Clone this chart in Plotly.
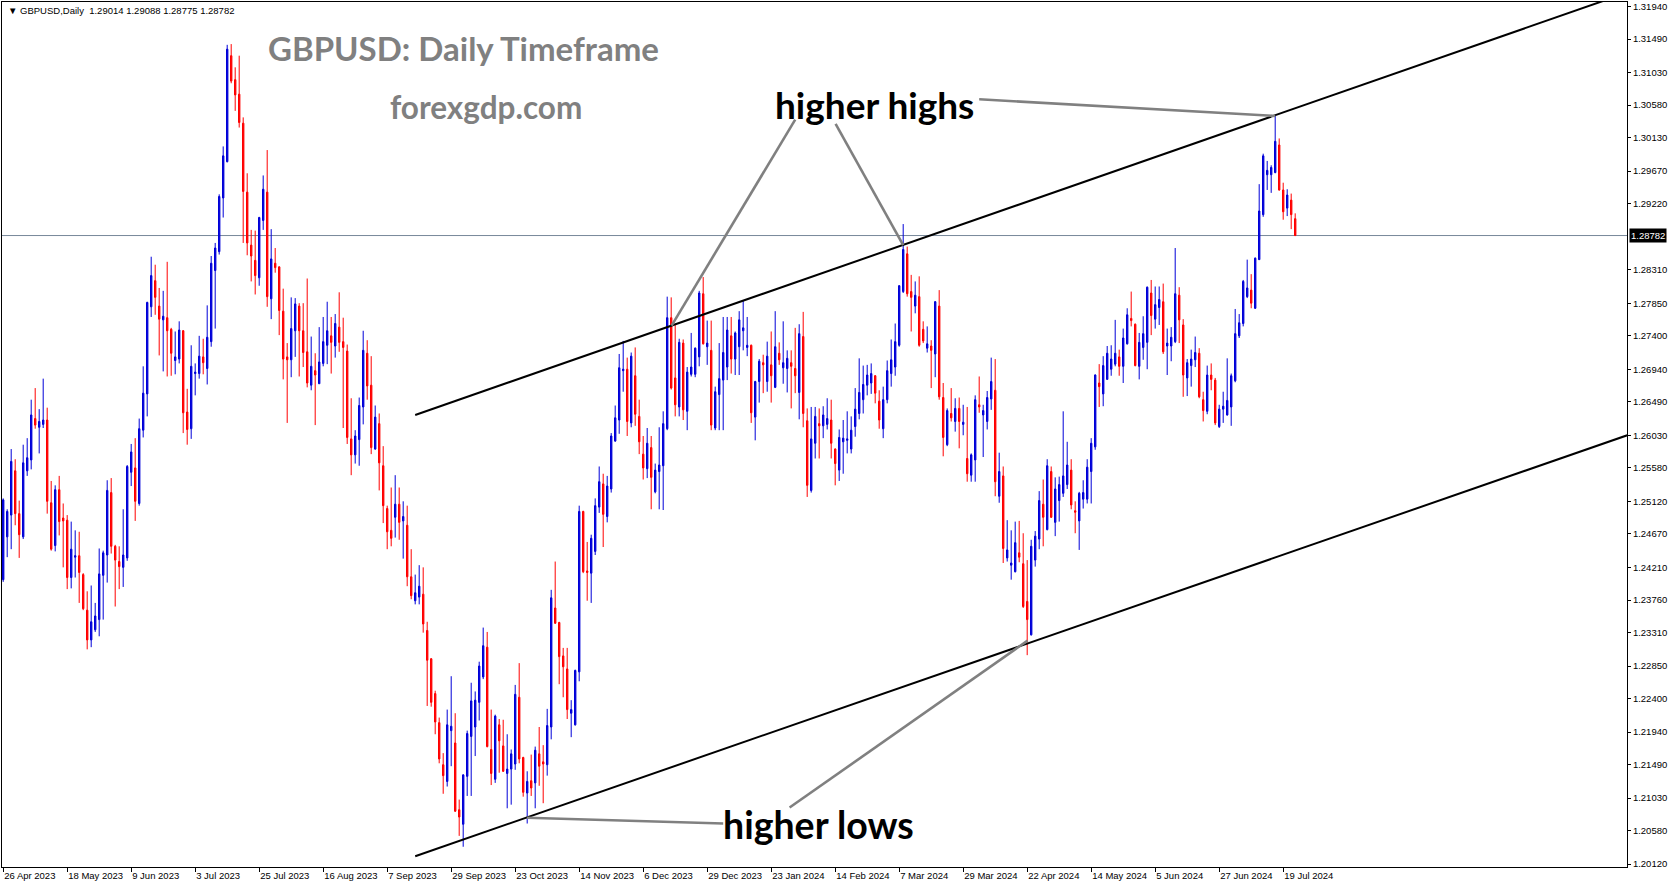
import plotly.graph_objects as go
import pandas as pd

# ---------------- data ----------------
dates = [d.strftime("%Y-%m-%d") for d in pd.bdate_range("2023-04-26", "2024-07-24")
         if d.strftime("%m-%d") not in ("12-25", "01-01")]

open_ = [
    1.2404, 1.2463, 1.2493, 1.2554, 1.2495, 1.2463, 1.2554, 1.2569, 1.2626, 1.2614,
    1.2618, 1.2624, 1.2510, 1.2451, 1.2528, 1.2489, 1.2486, 1.2407, 1.2435, 1.2437,
    1.2411, 1.2362, 1.2321, 1.2335, 1.2349, 1.2410, 1.2438, 1.2524, 1.2450, 1.2429,
    1.2421, 1.2434, 1.2552, 1.2558, 1.2509, 1.2610, 1.2660, 1.2780, 1.2816, 1.2781,
    1.2762, 1.2765, 1.2749, 1.2706, 1.2708, 1.2747, 1.2635, 1.2612, 1.2688, 1.2688,
    1.2711, 1.2695, 1.2732, 1.2830, 1.2856, 1.2930, 1.2980, 1.3126, 1.3093, 1.3073,
    1.3033, 1.2938, 1.2865, 1.2844, 1.2820, 1.2899, 1.2938, 1.2791, 1.2840, 1.2835,
    1.2774, 1.2711, 1.2707, 1.2747, 1.2781, 1.2747, 1.2718, 1.2672, 1.2692, 1.2674,
    1.2702, 1.2727, 1.2740, 1.2726, 1.2752, 1.2732, 1.2719, 1.2598, 1.2576, 1.2597,
    1.2642, 1.2716, 1.2672, 1.2584, 1.2619, 1.2561, 1.2502, 1.2472, 1.2490, 1.2508,
    1.2485, 1.2479, 1.2408, 1.2375, 1.2380, 1.2384, 1.2334, 1.2295, 1.2247, 1.2207,
    1.2149, 1.2126, 1.2196, 1.2179, 1.2087, 1.2067, 1.2133, 1.2188, 1.2201, 1.2235,
    1.2270, 1.2311, 1.2170, 1.2129, 1.2204, 1.2175, 1.2137, 1.2143, 1.2150, 1.2242,
    1.2159, 1.2110, 1.2127, 1.2124, 1.2164, 1.2153, 1.2149, 1.2201, 1.2365, 1.2345,
    1.2299, 1.2281, 1.2220, 1.2204, 1.2277, 1.2498, 1.2416, 1.2413, 1.2443, 1.2504,
    1.2536, 1.2491, 1.2529, 1.2595, 1.2624, 1.2692, 1.2694, 1.2620, 1.2685, 1.2629,
    1.2577, 1.2557, 1.2586, 1.2525, 1.2553, 1.2561, 1.2612, 1.2765, 1.2682, 1.2642,
    1.2730, 1.2636, 1.2687, 1.2687, 1.2711, 1.2798, 1.2725, 1.2720, 1.2613, 1.2659,
    1.2679, 1.2697, 1.2740, 1.2708, 1.2725, 1.2747, 1.2724, 1.2727, 1.2628, 1.2677,
    1.2703, 1.2677, 1.2700, 1.2669, 1.2716, 1.2696, 1.2695, 1.2703, 1.2695, 1.2662,
    1.2739, 1.2623, 1.2527, 1.2592, 1.2619, 1.2616, 1.2618, 1.2624, 1.2584, 1.2555,
    1.2594, 1.2596, 1.2584, 1.2615, 1.2633, 1.2652, 1.2672, 1.2675, 1.2685, 1.2650,
    1.2612, 1.2652, 1.2688, 1.2697, 1.2727, 1.2801, 1.2853, 1.2801, 1.2781, 1.2794,
    1.2749, 1.2723, 1.2726, 1.2715, 1.2781, 1.2655, 1.2590, 1.2633, 1.2622, 1.2640,
    1.2618, 1.2571, 1.2548, 1.2569, 1.2645, 1.2631, 1.2622, 1.2653, 1.2665, 1.2519,
    1.2547, 1.2434, 1.2424, 1.2415, 1.2441, 1.2426, 1.2374, 1.2328, 1.2431, 1.2460,
    1.2508, 1.2473, 1.2553, 1.2483, 1.2513, 1.2523, 1.2535, 1.2555, 1.2499, 1.2485,
    1.2515, 1.2515, 1.2553, 1.2587, 1.2675, 1.2660, 1.2680, 1.2694, 1.2701, 1.2711,
    1.2698, 1.2729, 1.2764, 1.2756, 1.2698, 1.2724, 1.2731, 1.2799, 1.2763, 1.2779,
    1.2787, 1.2726, 1.2726, 1.2732, 1.2796, 1.2755, 1.2682, 1.2699, 1.2707, 1.2716,
    1.2652, 1.2636, 1.2686, 1.2679, 1.2615, 1.2639, 1.2631, 1.2642, 1.2678, 1.2740,
    1.2757, 1.2794, 1.2803, 1.2778, 1.2845, 1.2907, 1.2962, 1.2962, 1.2965, 1.3003,
    1.2941, 1.2916, 1.2927, 1.29014,
]

high = [
    1.2516, 1.2501, 1.2584, 1.2570, 1.2513, 1.2590, 1.2599, 1.2652, 1.2668, 1.2639,
    1.2681, 1.2641, 1.2540, 1.2534, 1.2547, 1.2509, 1.2493, 1.2484, 1.2472, 1.2470,
    1.2413, 1.2388, 1.2396, 1.2372, 1.2447, 1.2444, 1.2541, 1.2544, 1.2452, 1.2450,
    1.2501, 1.2562, 1.2591, 1.2599, 1.2626, 1.2698, 1.2787, 1.2849, 1.2838, 1.2806,
    1.2802, 1.2842, 1.2751, 1.2746, 1.2760, 1.2748, 1.2667, 1.2727, 1.2702, 1.2740,
    1.2736, 1.2782, 1.2850, 1.2868, 1.2935, 1.3001, 1.3141, 1.3142, 1.3110, 1.3126,
    1.3041, 1.2964, 1.2886, 1.2885, 1.2904, 1.2961, 1.2996, 1.2887, 1.2861, 1.2836,
    1.2805, 1.2730, 1.2793, 1.2792, 1.2785, 1.2785, 1.2819, 1.2739, 1.2716, 1.2752,
    1.2766, 1.2787, 1.2766, 1.2770, 1.2800, 1.2765, 1.2728, 1.2654, 1.2610, 1.2655,
    1.2747, 1.2734, 1.2712, 1.2644, 1.2633, 1.2588, 1.2506, 1.2531, 1.2548, 1.2531,
    1.2512, 1.2506, 1.2446, 1.2411, 1.2424, 1.2421, 1.2346, 1.2296, 1.2251, 1.2214,
    1.2165, 1.2225, 1.2271, 1.2220, 1.2101, 1.2136, 1.2196, 1.2262, 1.2250, 1.2291,
    1.2338, 1.2332, 1.2225, 1.2218, 1.2212, 1.2211, 1.2191, 1.2170, 1.2259, 1.2289,
    1.2160, 1.2140, 1.2163, 1.2174, 1.2201, 1.2176, 1.2226, 1.2390, 1.2429, 1.2346,
    1.2310, 1.2310, 1.2238, 1.2280, 1.2506, 1.2499, 1.2456, 1.2466, 1.2516, 1.2560,
    1.2550, 1.2547, 1.2606, 1.2644, 1.2715, 1.2733, 1.2710, 1.2717, 1.2724, 1.2652,
    1.2602, 1.2613, 1.2602, 1.2564, 1.2614, 1.2636, 1.2794, 1.2793, 1.2756, 1.2736,
    1.2735, 1.2697, 1.2744, 1.2724, 1.2802, 1.2821, 1.2761, 1.2761, 1.2670, 1.2730,
    1.2766, 1.2766, 1.2766, 1.2746, 1.2774, 1.2788, 1.2766, 1.2728, 1.2678, 1.2708,
    1.2714, 1.2732, 1.2746, 1.2774, 1.2731, 1.2760, 1.2720, 1.2720, 1.2751, 1.2756,
    1.2773, 1.2640, 1.2642, 1.2642, 1.2640, 1.2643, 1.2654, 1.2652, 1.2585, 1.2611,
    1.2624, 1.2636, 1.2629, 1.2668, 1.2709, 1.2699, 1.2700, 1.2702, 1.2686, 1.2665,
    1.2670, 1.2706, 1.2735, 1.2757, 1.2810, 1.2894, 1.2863, 1.2824, 1.2815, 1.2822,
    1.2760, 1.2753, 1.2734, 1.2788, 1.2803, 1.2675, 1.2640, 1.2668, 1.2654, 1.2655,
    1.2645, 1.2642, 1.2578, 1.2658, 1.2684, 1.2645, 1.2664, 1.2710, 1.2708, 1.2579,
    1.2560, 1.2486, 1.2472, 1.2484, 1.2485, 1.2468, 1.2431, 1.2459, 1.2471, 1.2526,
    1.2542, 1.2570, 1.2560, 1.2545, 1.2546, 1.2636, 1.2594, 1.2570, 1.2512, 1.2525,
    1.2541, 1.2570, 1.2599, 1.2687, 1.2701, 1.2712, 1.2726, 1.2727, 1.2762, 1.2721,
    1.2750, 1.2778, 1.2801, 1.2757, 1.2744, 1.2767, 1.2808, 1.2817, 1.2808, 1.2808,
    1.2812, 1.2750, 1.2752, 1.2861, 1.2807, 1.2763, 1.2708, 1.2721, 1.2739, 1.2723,
    1.2663, 1.2699, 1.2702, 1.2682, 1.2645, 1.2663, 1.2709, 1.2688, 1.2777, 1.2770,
    1.2817, 1.2845, 1.2825, 1.2848, 1.2949, 1.2991, 1.2981, 1.2975, 1.3044, 1.3012,
    1.2951, 1.2942, 1.2936, 1.29088,
]

low = [
    1.2401, 1.2435, 1.2446, 1.2479, 1.2434, 1.2460, 1.2547, 1.2556, 1.2612, 1.2578,
    1.2613, 1.2495, 1.2444, 1.2443, 1.2465, 1.2421, 1.2391, 1.2392, 1.2407, 1.2372,
    1.2362, 1.2308, 1.2311, 1.2332, 1.2326, 1.2349, 1.2400, 1.2440, 1.2367, 1.2391,
    1.2394, 1.2430, 1.2533, 1.2485, 1.2506, 1.2600, 1.2629, 1.2766, 1.2769, 1.2713,
    1.2691, 1.2684, 1.2685, 1.2687, 1.2702, 1.2606, 1.2590, 1.2598, 1.2658, 1.2681,
    1.2687, 1.2673, 1.2725, 1.2750, 1.2852, 1.2903, 1.2979, 1.3088, 1.3050, 1.3027,
    1.2868, 1.2851, 1.2815, 1.2797, 1.2809, 1.2886, 1.2780, 1.2763, 1.2827, 1.2741,
    1.2680, 1.2620, 1.2683, 1.2711, 1.2684, 1.2697, 1.2669, 1.2665, 1.2617, 1.2674,
    1.2698, 1.2701, 1.2688, 1.2710, 1.2718, 1.2613, 1.2591, 1.2548, 1.2564, 1.2561,
    1.2618, 1.2652, 1.2577, 1.2583, 1.2527, 1.2482, 1.2446, 1.2450, 1.2462, 1.2459,
    1.2433, 1.2395, 1.2377, 1.2370, 1.2370, 1.2331, 1.2230, 1.2229, 1.2191, 1.2151,
    1.2109, 1.2119, 1.2147, 1.2084, 1.2051, 1.2036, 1.2106, 1.2106, 1.2161, 1.2210,
    1.2267, 1.2173, 1.2121, 1.2124, 1.2138, 1.2139, 1.2089, 1.2094, 1.2142, 1.2151,
    1.2105, 1.2068, 1.2106, 1.2089, 1.2120, 1.2096, 1.2134, 1.2184, 1.2343, 1.2260,
    1.2242, 1.2212, 1.2187, 1.2203, 1.2264, 1.2413, 1.2375, 1.2372, 1.2438, 1.2496,
    1.2449, 1.2483, 1.2524, 1.2594, 1.2605, 1.2663, 1.2602, 1.2614, 1.2616, 1.2577,
    1.2542, 1.2544, 1.2501, 1.2523, 1.2501, 1.2500, 1.2610, 1.2666, 1.2629, 1.2629,
    1.2624, 1.2610, 1.2684, 1.2683, 1.2698, 1.2728, 1.2700, 1.2610, 1.2610, 1.2610,
    1.2610, 1.2679, 1.2688, 1.2686, 1.2686, 1.2720, 1.2712, 1.2620, 1.2596, 1.2648,
    1.2661, 1.2663, 1.2648, 1.2668, 1.2700, 1.2674, 1.2662, 1.2640, 1.2661, 1.2625,
    1.2614, 1.2518, 1.2524, 1.2571, 1.2571, 1.2599, 1.2611, 1.2571, 1.2534, 1.2540,
    1.2550, 1.2578, 1.2578, 1.2601, 1.2625, 1.2633, 1.2658, 1.2660, 1.2647, 1.2612,
    1.2599, 1.2647, 1.2670, 1.2685, 1.2725, 1.2799, 1.2794, 1.2746, 1.2771, 1.2725,
    1.2730, 1.2717, 1.2668, 1.2683, 1.2652, 1.2574, 1.2588, 1.2622, 1.2608, 1.2585,
    1.2603, 1.2539, 1.2539, 1.2539, 1.2634, 1.2573, 1.2611, 1.2638, 1.2519, 1.2510,
    1.2427, 1.2429, 1.2404, 1.2414, 1.2428, 1.2365, 1.2300, 1.2327, 1.2422, 1.2446,
    1.2450, 1.2472, 1.2489, 1.2464, 1.2484, 1.2518, 1.2529, 1.2501, 1.2468, 1.2445,
    1.2502, 1.2509, 1.2509, 1.2583, 1.2642, 1.2643, 1.2680, 1.2685, 1.2698, 1.2685,
    1.2675, 1.2728, 1.2753, 1.2698, 1.2680, 1.2707, 1.2694, 1.2741, 1.2750, 1.2755,
    1.2715, 1.2686, 1.2705, 1.2730, 1.2730, 1.2656, 1.2657, 1.2670, 1.2697, 1.2654,
    1.2622, 1.2632, 1.2665, 1.2617, 1.2613, 1.2620, 1.2630, 1.2616, 1.2676, 1.2737,
    1.2753, 1.2792, 1.2778, 1.2777, 1.2845, 1.2904, 1.2941, 1.2937, 1.2964, 1.2940,
    1.2900, 1.2905, 1.2887, 1.28775,
]

close = [
    1.2514, 1.2498, 1.2567, 1.2495, 1.2466, 1.2565, 1.2572, 1.2631, 1.2617, 1.2622,
    1.2624, 1.2512, 1.2446, 1.2528, 1.2484, 1.2485, 1.2407, 1.2446, 1.2437, 1.2414,
    1.2364, 1.2321, 1.2346, 1.2354, 1.2412, 1.2441, 1.2527, 1.2450, 1.2431, 1.2422,
    1.2438, 1.2560, 1.2580, 1.2512, 1.2612, 1.2661, 1.2786, 1.2823, 1.2793, 1.2763,
    1.2767, 1.2747, 1.2716, 1.2711, 1.2748, 1.2634, 1.2611, 1.2698, 1.2690, 1.2712,
    1.2703, 1.2738, 1.2840, 1.2861, 1.2932, 1.2988, 1.3135, 1.3091, 1.3072, 1.3034,
    1.2939, 1.2868, 1.2850, 1.2823, 1.2903, 1.2942, 1.2794, 1.2846, 1.2834, 1.2775,
    1.2708, 1.2707, 1.2750, 1.2784, 1.2747, 1.2717, 1.2675, 1.2698, 1.2686, 1.2704,
    1.2732, 1.2747, 1.2731, 1.2757, 1.2731, 1.2724, 1.2600, 1.2576, 1.2602, 1.2644,
    1.2720, 1.2671, 1.2586, 1.2628, 1.2565, 1.2506, 1.2470, 1.2461, 1.2508, 1.2483,
    1.2491, 1.2408, 1.2382, 1.2386, 1.2395, 1.2343, 1.2293, 1.2235, 1.2208, 1.2157,
    1.2134, 1.2204, 1.2202, 1.2085, 1.2077, 1.2135, 1.2192, 1.2237, 1.2238, 1.2285,
    1.2313, 1.2174, 1.2137, 1.2216, 1.2182, 1.2140, 1.2143, 1.2164, 1.2246, 1.2157,
    1.2111, 1.2126, 1.2117, 1.2169, 1.2147, 1.2150, 1.2203, 1.2379, 1.2344, 1.2298,
    1.2284, 1.2225, 1.2225, 1.2279, 1.2498, 1.2415, 1.2414, 1.2461, 1.2506, 1.2539,
    1.2494, 1.2533, 1.2602, 1.2627, 1.2696, 1.2694, 1.2622, 1.2712, 1.2632, 1.2594,
    1.2558, 1.2592, 1.2545, 1.2555, 1.2562, 1.2619, 1.2765, 1.2668, 1.2645, 1.2731,
    1.2638, 1.2690, 1.2697, 1.2723, 1.2799, 1.2729, 1.2730, 1.2617, 1.2663, 1.2681,
    1.2717, 1.2748, 1.2708, 1.2744, 1.2762, 1.2751, 1.2727, 1.2634, 1.2677, 1.2705,
    1.2700, 1.2712, 1.2685, 1.2725, 1.2707, 1.2703, 1.2709, 1.2698, 1.2685, 1.2743,
    1.2633, 1.2534, 1.2598, 1.2629, 1.2616, 1.2631, 1.2626, 1.2592, 1.2564, 1.2600,
    1.2599, 1.2598, 1.2610, 1.2639, 1.2662, 1.2673, 1.2686, 1.2688, 1.2661, 1.2624,
    1.2652, 1.2692, 1.2707, 1.2732, 1.2809, 1.2859, 1.2798, 1.2793, 1.2796, 1.2727,
    1.2733, 1.2729, 1.2720, 1.2787, 1.2656, 1.2600, 1.2637, 1.2627, 1.2640, 1.2622,
    1.2621, 1.2550, 1.2576, 1.2652, 1.2642, 1.2637, 1.2655, 1.2677, 1.2539, 1.2553,
    1.2447, 1.2445, 1.2427, 1.2455, 1.2435, 1.2367, 1.2349, 1.2450, 1.2464, 1.2513,
    1.2490, 1.2561, 1.2490, 1.2529, 1.2535, 1.2547, 1.2562, 1.2507, 1.2497, 1.2523,
    1.2524, 1.2559, 1.2592, 1.2686, 1.2670, 1.2699, 1.2716, 1.2708, 1.2716, 1.2698,
    1.2737, 1.2769, 1.2761, 1.2699, 1.2731, 1.2743, 1.2807, 1.2768, 1.2783, 1.2790,
    1.2718, 1.2730, 1.2738, 1.2798, 1.2762, 1.2686, 1.2703, 1.2708, 1.2717, 1.2656,
    1.2637, 1.2686, 1.2680, 1.2620, 1.2639, 1.2643, 1.2651, 1.2685, 1.2743, 1.2758,
    1.2815, 1.2806, 1.2785, 1.2847, 1.2912, 1.2988, 1.2968, 1.2972, 1.3008, 1.2941,
    1.2911, 1.2934, 1.2907, 1.28782,
]

tick_dates = ["2023-04-26", "2023-05-18", "2023-06-09", "2023-07-03", "2023-07-25",
              "2023-08-16", "2023-09-07", "2023-09-29", "2023-10-23", "2023-11-14",
              "2023-12-06", "2023-12-29", "2024-01-23", "2024-02-14", "2024-03-07",
              "2024-03-29", "2024-04-22", "2024-05-14", "2024-06-05", "2024-06-27",
              "2024-07-19"]
tick_labels = ["26 Apr 2023", "18 May 2023", "9 Jun 2023", "3 Jul 2023", "25 Jul 2023",
               "16 Aug 2023", "7 Sep 2023", "29 Sep 2023", "23 Oct 2023", "14 Nov 2023",
               "6 Dec 2023", "29 Dec 2023", "23 Jan 2024", "14 Feb 2024", "7 Mar 2024",
               "29 Mar 2024", "22 Apr 2024", "14 May 2024", "5 Jun 2024", "27 Jun 2024",
               "19 Jul 2024"]

price_ticks = [1.20120, 1.20580, 1.21030, 1.21490, 1.21940, 1.22400, 1.22850, 1.23310,
               1.23760, 1.24210, 1.24670, 1.25120, 1.25580, 1.26030, 1.26490, 1.26940,
               1.27400, 1.27850, 1.28310, 1.29220, 1.29670, 1.30130, 1.30580, 1.31030,
               1.31490, 1.31940]

# analyst drawings (bar index, price)
upper_channel_x = [103.0, 406.0]
upper_channel_y = [1.2631, 1.3213]
lower_channel_x = [103.0, 406.0]
lower_channel_y = [1.2023, 1.2603]
higher_high_pointers = [([198.0, 167.1], [1.3038, 1.2754]),
                        ([208.1, 225.0], [1.3032, 1.2865]),
                        ([244.0, 318.0], [1.3066, 1.3043])]
higher_low_pointers = [([180.0, 130.9], [1.2068, 1.2076]),
                       ([196.6, 256.1], [1.2090, 1.2320])]

# ---------------- figure ----------------
n = len(dates)
assert len(open_) == n and len(high) == n and len(low) == n and len(close) == n, (n, len(open_), len(high), len(low), len(close))
xpos = list(range(n))
tickvals = [dates.index(d) for d in tick_dates]

BLUE = "#0000D8"
RED = "#FF0000"
LBL_FONT = "Liberation Sans"

fig = go.Figure()
fig.add_trace(go.Candlestick(
    x=xpos, open=open_, high=high, low=low, close=close, text=dates,
    increasing=dict(line=dict(color=BLUE, width=1), fillcolor=BLUE),
    decreasing=dict(line=dict(color=RED, width=1), fillcolor=RED),
    whiskerwidth=0, showlegend=False,
))

for xs, ys in [(upper_channel_x, upper_channel_y), (lower_channel_x, lower_channel_y)]:
    fig.add_trace(go.Scatter(x=xs, y=ys, mode="lines", line=dict(color="black", width=2),
                             showlegend=False, hoverinfo="skip"))
for xs, ys in higher_high_pointers + higher_low_pointers:
    fig.add_trace(go.Scatter(x=xs, y=ys, mode="lines", line=dict(color="#808080", width=2.6),
                             showlegend=False, hoverinfo="skip"))

last_close = close[-1]
fig.add_shape(type="line", xref="paper", x0=0, x1=1, yref="y", y0=last_close, y1=last_close,
              line=dict(color="#778899", width=1), layer="below")

header = "\u25BC\u00a0GBPUSD,Daily\u00a0\u00a0{:.5f} {:.5f} {:.5f} {:.5f}".format(
    open_[-1], high[-1], low[-1], close[-1])

annotations = [
    dict(text=header, xref="paper", yref="paper", x=0.0025, y=0.9896, xanchor="left",
         yanchor="middle", showarrow=False, font=dict(family=LBL_FONT, size=9.5, color="black")),
    dict(text="GBPUSD: Daily Timeframe", xref="paper", yref="paper", x=0.2840, y=0.9468,
         xanchor="center", yanchor="middle", showarrow=False,
         font=dict(family="Lato", size=33, color="#808080", weight="bold")),
    dict(text="forexgdp.com", xref="paper", yref="paper", x=0.2978, y=0.8790,
         xanchor="center", yanchor="middle", showarrow=False,
         font=dict(family="Lato", size=31.5, color="#808080", weight="bold")),
    dict(text="higher highs", xref="x", yref="y", x=217.8, y=1.3059,
         xanchor="center", yanchor="middle", showarrow=False,
         font=dict(family="Lato", size=37, color="black", weight="bold")),
    dict(text="higher lows", xref="x", yref="y", x=203.7, y=1.2066,
         xanchor="center", yanchor="middle", showarrow=False,
         font=dict(family="Lato", size=37.5, color="black", weight="bold")),
    dict(text="{:.5f}".format(last_close), xref="paper", yref="y", x=1, y=last_close,
         xanchor="left", yanchor="middle", xshift=2, showarrow=False, bgcolor="black",
         borderpad=1, font=dict(family=LBL_FONT, size=9.5, color="white")),
]

fig.update_layout(
    width=1673, height=888,
    margin=dict(l=2, r=46, t=2, b=21, autoexpand=False),
    paper_bgcolor="white", plot_bgcolor="white",
    boxgap=0.5,
    annotations=annotations,
    showlegend=False,
    hovermode=False,
    xaxis=dict(
        range=[-0.3, 405.95], rangeslider=dict(visible=False),
        tickvals=tickvals, ticktext=tick_labels, ticklabelposition="outside right",
        ticks="outside", ticklen=4, tickcolor="black",
        tickfont=dict(family=LBL_FONT, size=9.5, color="black"),
        showgrid=False, zeroline=False, showline=True, linecolor="black", linewidth=1,
        mirror=True, automargin=False, fixedrange=True,
    ),
    yaxis=dict(
        range=[1.20081, 1.32000], side="right",
        tickvals=price_ticks, tickformat=".5f",
        ticks="outside", ticklen=3, tickcolor="black",
        tickfont=dict(family=LBL_FONT, size=9.5, color="black"),
        showgrid=False, zeroline=False, showline=True, linecolor="black", linewidth=1,
        mirror=True, automargin=False, fixedrange=True,
    ),
)

fig.write_html("out.html", config={"displayModeBar": False},
               post_script="document.body.style.margin='0';document.body.style.overflow='hidden';")
